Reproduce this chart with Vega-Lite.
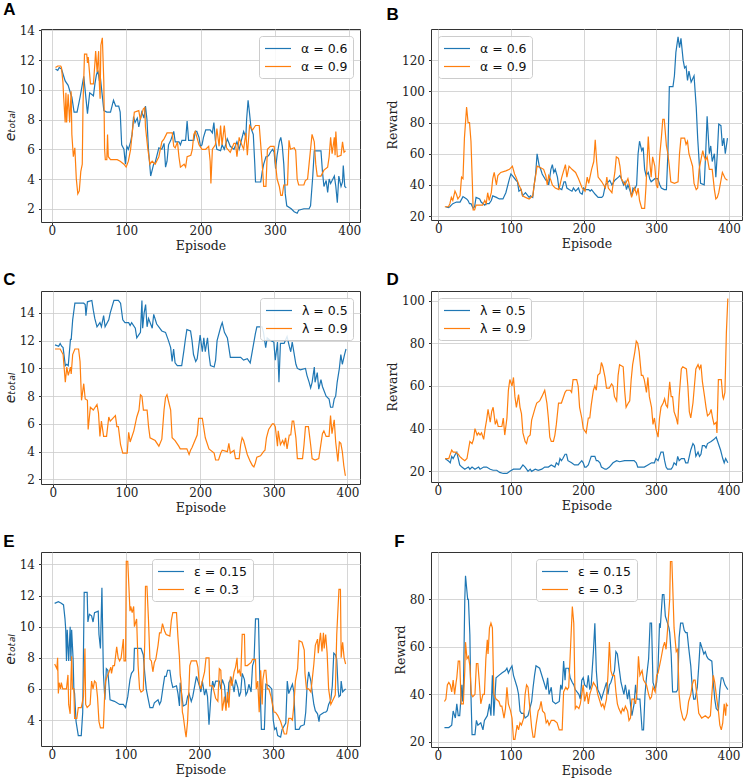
{
"$schema":"https://vega.github.io/schema/vega-lite/v6.json",
"background":"white",
"padding":{"left":2,"top":0,"right":0,"bottom":0},
"config":{
"view":{"stroke":"#333333","strokeWidth":1},
"axis":{"labelFont":"DejaVu Serif","labelFontSize":12,"labelColor":"#222222","titleFont":"DejaVu Serif","titleFontSize":12.5,"titleFontWeight":"normal","titleColor":"#222222","gridColor":"#cccccc","gridWidth":0.8,"tickColor":"#333333","tickSize":2.5,"domain":false},
"axisX":{"labelPadding":1,"titlePadding":3},
"axisY":{"labelPadding":4,"titlePadding":2},
"title":{"font":"Liberation Sans","fontSize":17,"fontWeight":"bold","anchor":"start","frame":"bounds","color":"#000000","offset":6},
"legend":{"symbolType":"M-1,0H3","symbolSize":169,"symbolStrokeWidth":1.5,"labelFont":"DejaVu Sans","labelFontSize":12.5,"labelColor":"#111111","labelOffset":22,"padding":5,"rowPadding":4,"fillColor":"rgba(255,255,255,0.85)","strokeColor":"#cccccc","cornerRadius":3,"offset":7,"title":null},
"line":{"strokeWidth":1.2}
},
"datasets":{
"A1":[{"x":5,"y":11.4},{"x":8,"y":11.3},{"x":10,"y":11.5},{"x":13,"y":11.4},{"x":18,"y":10.6},{"x":22,"y":10.3},{"x":25,"y":9.8},{"x":27,"y":9.5},{"x":30,"y":8.5},{"x":34,"y":8.5},{"x":38,"y":9.5},{"x":43,"y":10.9},{"x":48,"y":8.4},{"x":51,"y":9.8},{"x":56,"y":9.6},{"x":58,"y":10.4},{"x":60,"y":11.0},{"x":62,"y":11.3},{"x":64,"y":10.6},{"x":65,"y":11.0},{"x":70,"y":8.6},{"x":74,"y":8.5},{"x":79,"y":8.5},{"x":81,"y":8.9},{"x":83,"y":9.3},{"x":86,"y":8.9},{"x":90,"y":8.9},{"x":92,"y":8.5},{"x":94,"y":6.3},{"x":97,"y":6.0},{"x":99,"y":5.0},{"x":101,"y":6.2},{"x":103,"y":6.0},{"x":106,"y":6.5},{"x":108,"y":7.0},{"x":110,"y":8.2},{"x":112,"y":7.8},{"x":115,"y":8.1},{"x":117,"y":7.5},{"x":121,"y":8.5},{"x":124,"y":8.1},{"x":126,"y":8.9},{"x":128,"y":8.0},{"x":130,"y":6.0},{"x":133,"y":4.2},{"x":137,"y":5.0},{"x":139,"y":5.1},{"x":144,"y":6.1},{"x":148,"y":6.0},{"x":151,"y":6.4},{"x":153,"y":4.8},{"x":155,"y":5.2},{"x":157,"y":6.3},{"x":160,"y":6.6},{"x":164,"y":7.2},{"x":166,"y":6.5},{"x":171,"y":6.5},{"x":173,"y":6.3},{"x":175,"y":6.6},{"x":180,"y":6.6},{"x":182,"y":7.9},{"x":184,"y":6.6},{"x":191,"y":6.6},{"x":193,"y":7.2},{"x":195,"y":7.2},{"x":198,"y":6.8},{"x":200,"y":6.2},{"x":202,"y":6.3},{"x":204,"y":6.8},{"x":207,"y":7.3},{"x":213,"y":7.3},{"x":216,"y":7.1},{"x":218,"y":7.8},{"x":220,"y":6.6},{"x":222,"y":6.0},{"x":227,"y":5.9},{"x":229,"y":6.3},{"x":232,"y":6.0},{"x":236,"y":6.7},{"x":240,"y":6.2},{"x":245,"y":6.0},{"x":249,"y":6.5},{"x":252,"y":6.0},{"x":256,"y":6.8},{"x":258,"y":7.2},{"x":261,"y":6.8},{"x":262,"y":8.0},{"x":264,"y":9.3},{"x":266,"y":8.4},{"x":268,"y":7.4},{"x":271,"y":7.0},{"x":273,"y":5.0},{"x":274,"y":3.8},{"x":281,"y":3.8},{"x":283,"y":4.5},{"x":285,"y":5.0},{"x":288,"y":5.5},{"x":290,"y":5.5},{"x":292,"y":5.6},{"x":294,"y":5.8},{"x":297,"y":6.0},{"x":299,"y":5.8},{"x":301,"y":4.7},{"x":303,"y":5.6},{"x":306,"y":6.5},{"x":308,"y":6.8},{"x":310,"y":6.2},{"x":312,"y":5.0},{"x":314,"y":3.0},{"x":316,"y":2.2},{"x":322,"y":2.0},{"x":326,"y":1.8},{"x":330,"y":1.7},{"x":332,"y":1.9},{"x":339,"y":2.0},{"x":346,"y":2.0},{"x":348,"y":2.2},{"x":351,"y":4.2},{"x":353,"y":5.9},{"x":362,"y":5.9},{"x":364,"y":4.5},{"x":366,"y":3.5},{"x":369,"y":3.9},{"x":371,"y":3.1},{"x":373,"y":4.0},{"x":375,"y":3.7},{"x":380,"y":4.2},{"x":382,"y":3.5},{"x":384,"y":2.4},{"x":386,"y":4.2},{"x":389,"y":3.5},{"x":391,"y":3.8},{"x":392,"y":4.9},{"x":394,"y":3.5},{"x":396,"y":3.4}],
"A2":[{"x":5,"y":11.5},{"x":8,"y":11.6},{"x":12,"y":11.6},{"x":13,"y":11.5},{"x":15,"y":10.5},{"x":16,"y":9.5},{"x":18,"y":7.8},{"x":19,"y":9.8},{"x":20,"y":7.8},{"x":22,"y":9.7},{"x":24,"y":7.8},{"x":26,"y":9.9},{"x":27,"y":7.0},{"x":29,"y":5.5},{"x":31,"y":6.1},{"x":33,"y":4.0},{"x":35,"y":3.0},{"x":37,"y":3.2},{"x":39,"y":4.5},{"x":41,"y":5.0},{"x":42,"y":9.0},{"x":44,"y":12.4},{"x":47,"y":12.4},{"x":48,"y":11.8},{"x":49,"y":12.2},{"x":52,"y":10.4},{"x":56,"y":10.4},{"x":58,"y":11.8},{"x":59,"y":12.6},{"x":61,"y":11.2},{"x":63,"y":12.6},{"x":64,"y":10.4},{"x":65,"y":9.4},{"x":66,"y":13.0},{"x":68,"y":13.5},{"x":70,"y":10.5},{"x":71,"y":6.0},{"x":72,"y":5.3},{"x":74,"y":5.3},{"x":75,"y":7.0},{"x":76,"y":5.5},{"x":79,"y":5.3},{"x":88,"y":5.3},{"x":92,"y":5.2},{"x":97,"y":5.0},{"x":100,"y":4.8},{"x":103,"y":5.2},{"x":106,"y":6.0},{"x":108,"y":7.0},{"x":111,"y":8.5},{"x":117,"y":8.6},{"x":119,"y":8.0},{"x":123,"y":8.7},{"x":125,"y":8.8},{"x":126,"y":7.5},{"x":129,"y":6.1},{"x":132,"y":5.0},{"x":135,"y":5.2},{"x":139,"y":5.0},{"x":144,"y":5.5},{"x":148,"y":6.5},{"x":151,"y":6.7},{"x":155,"y":7.1},{"x":162,"y":7.1},{"x":164,"y":6.2},{"x":166,"y":6.1},{"x":169,"y":6.5},{"x":171,"y":5.5},{"x":173,"y":4.8},{"x":178,"y":5.0},{"x":180,"y":4.8},{"x":182,"y":5.5},{"x":187,"y":5.6},{"x":189,"y":6.0},{"x":191,"y":7.0},{"x":193,"y":7.2},{"x":198,"y":6.3},{"x":202,"y":6.0},{"x":207,"y":6.0},{"x":211,"y":6.2},{"x":213,"y":5.2},{"x":214,"y":3.7},{"x":216,"y":6.0},{"x":220,"y":6.3},{"x":222,"y":7.4},{"x":225,"y":6.2},{"x":227,"y":7.6},{"x":229,"y":6.3},{"x":232,"y":7.6},{"x":235,"y":6.1},{"x":240,"y":5.8},{"x":245,"y":6.4},{"x":247,"y":6.4},{"x":249,"y":5.5},{"x":252,"y":6.8},{"x":254,"y":6.5},{"x":258,"y":6.0},{"x":261,"y":7.1},{"x":263,"y":5.6},{"x":266,"y":7.6},{"x":270,"y":7.3},{"x":274,"y":7.6},{"x":279,"y":7.6},{"x":281,"y":6.3},{"x":283,"y":5.0},{"x":285,"y":3.5},{"x":288,"y":3.5},{"x":290,"y":6.0},{"x":294,"y":6.2},{"x":299,"y":6.2},{"x":301,"y":5.0},{"x":303,"y":4.0},{"x":306,"y":3.5},{"x":308,"y":2.9},{"x":310,"y":2.9},{"x":312,"y":3.6},{"x":317,"y":3.6},{"x":319,"y":6.6},{"x":321,"y":6.0},{"x":326,"y":6.1},{"x":328,"y":5.9},{"x":330,"y":4.0},{"x":332,"y":3.6},{"x":339,"y":3.6},{"x":341,"y":3.9},{"x":344,"y":4.0},{"x":346,"y":5.0},{"x":348,"y":6.0},{"x":350,"y":7.0},{"x":353,"y":6.5},{"x":355,"y":5.0},{"x":357,"y":4.2},{"x":362,"y":4.2},{"x":366,"y":4.6},{"x":371,"y":4.8},{"x":373,"y":5.5},{"x":375,"y":6.8},{"x":377,"y":5.7},{"x":380,"y":6.8},{"x":381,"y":5.6},{"x":382,"y":7.2},{"x":384,"y":5.5},{"x":389,"y":5.6},{"x":391,"y":6.5},{"x":393,"y":5.8},{"x":395,"y":5.9}],
"B1":[{"x":10,"y":26},{"x":14,"y":25.5},{"x":16,"y":26},{"x":18,"y":27},{"x":20,"y":28},{"x":25,"y":29},{"x":30,"y":29},{"x":34,"y":32.5},{"x":39,"y":31},{"x":41,"y":30},{"x":43,"y":28},{"x":45,"y":28},{"x":48,"y":25},{"x":50,"y":26},{"x":52,"y":32},{"x":57,"y":31},{"x":59,"y":29},{"x":64,"y":27},{"x":66,"y":28},{"x":70,"y":28},{"x":73,"y":30},{"x":75,"y":33},{"x":80,"y":32},{"x":84,"y":31},{"x":89,"y":31},{"x":93,"y":35},{"x":98,"y":44},{"x":100,"y":47},{"x":102,"y":46},{"x":107,"y":43},{"x":109,"y":42},{"x":111,"y":36},{"x":114,"y":37},{"x":116,"y":33},{"x":120,"y":35},{"x":125,"y":32},{"x":127,"y":33},{"x":130,"y":32},{"x":132,"y":40},{"x":134,"y":47},{"x":136,"y":60},{"x":139,"y":52},{"x":141,"y":50},{"x":143,"y":47},{"x":148,"y":43},{"x":150,"y":43},{"x":152,"y":40},{"x":155,"y":50},{"x":157,"y":53},{"x":159,"y":48},{"x":161,"y":50},{"x":164,"y":45},{"x":166,"y":38},{"x":170,"y":37},{"x":173,"y":42},{"x":175,"y":42},{"x":177,"y":38},{"x":180,"y":37},{"x":184,"y":36},{"x":186,"y":38},{"x":189,"y":36},{"x":193,"y":38},{"x":195,"y":35},{"x":198,"y":34},{"x":200,"y":38},{"x":202,"y":37},{"x":207,"y":37},{"x":209,"y":36},{"x":211,"y":37},{"x":216,"y":34},{"x":220,"y":32},{"x":225,"y":32},{"x":227,"y":33},{"x":230,"y":40},{"x":234,"y":42},{"x":236,"y":43},{"x":239,"y":40},{"x":243,"y":43},{"x":248,"y":45},{"x":250,"y":46},{"x":252,"y":44},{"x":255,"y":40},{"x":257,"y":42},{"x":259,"y":37},{"x":261,"y":40},{"x":264,"y":36},{"x":266,"y":33},{"x":268,"y":38},{"x":270,"y":37},{"x":273,"y":40},{"x":275,"y":60},{"x":277,"y":68},{"x":280,"y":62},{"x":282,"y":64},{"x":284,"y":50},{"x":286,"y":46},{"x":289,"y":48},{"x":291,"y":44},{"x":293,"y":42},{"x":298,"y":44},{"x":302,"y":44},{"x":305,"y":40},{"x":307,"y":38},{"x":311,"y":37},{"x":314,"y":37},{"x":316,"y":60},{"x":318,"y":103},{"x":323,"y":103},{"x":325,"y":110},{"x":327,"y":125},{"x":330,"y":135},{"x":332,"y":128},{"x":334,"y":134},{"x":337,"y":120},{"x":339,"y":115},{"x":341,"y":116},{"x":343,"y":107},{"x":345,"y":113},{"x":348,"y":106},{"x":350,"y":108},{"x":352,"y":110},{"x":355,"y":90},{"x":357,"y":70},{"x":359,"y":55},{"x":361,"y":41},{"x":366,"y":40},{"x":368,"y":60},{"x":370,"y":84},{"x":373,"y":60},{"x":375,"y":65},{"x":377,"y":55},{"x":380,"y":60},{"x":382,"y":45},{"x":384,"y":60},{"x":386,"y":79},{"x":389,"y":78},{"x":391,"y":65},{"x":393,"y":70},{"x":395,"y":60},{"x":398,"y":70}],
"B2":[{"x":9,"y":26},{"x":14,"y":26},{"x":16,"y":28},{"x":18,"y":32},{"x":20,"y":30},{"x":23,"y":36},{"x":25,"y":34},{"x":27,"y":31},{"x":30,"y":33},{"x":32,"y":45},{"x":34,"y":44},{"x":36,"y":70},{"x":39,"y":90},{"x":41,"y":80},{"x":43,"y":80},{"x":45,"y":68},{"x":47,"y":40},{"x":48,"y":24},{"x":50,"y":24},{"x":52,"y":27},{"x":57,"y":27},{"x":61,"y":27},{"x":64,"y":30},{"x":66,"y":28},{"x":68,"y":35},{"x":70,"y":30},{"x":73,"y":35},{"x":75,"y":44},{"x":77,"y":48},{"x":80,"y":40},{"x":82,"y":46},{"x":86,"y":48},{"x":93,"y":49},{"x":98,"y":50},{"x":102,"y":52},{"x":105,"y":47},{"x":107,"y":45},{"x":111,"y":40},{"x":114,"y":37},{"x":116,"y":33},{"x":120,"y":32},{"x":125,"y":31},{"x":130,"y":33},{"x":132,"y":40},{"x":134,"y":46},{"x":136,"y":52},{"x":141,"y":51},{"x":145,"y":50},{"x":148,"y":46},{"x":150,"y":40},{"x":152,"y":46},{"x":155,"y":43},{"x":157,"y":40},{"x":161,"y":38},{"x":166,"y":37},{"x":170,"y":45},{"x":175,"y":53},{"x":177,"y":45},{"x":180,"y":52},{"x":184,"y":50},{"x":189,"y":48},{"x":193,"y":44},{"x":198,"y":38},{"x":202,"y":36},{"x":205,"y":45},{"x":207,"y":41},{"x":211,"y":50},{"x":214,"y":55},{"x":216,"y":69},{"x":218,"y":55},{"x":220,"y":45},{"x":225,"y":42},{"x":230,"y":38},{"x":232,"y":45},{"x":234,"y":38},{"x":239,"y":35},{"x":241,"y":42},{"x":243,"y":48},{"x":245,"y":58},{"x":248,"y":57},{"x":250,"y":52},{"x":252,"y":44},{"x":257,"y":40},{"x":261,"y":44},{"x":264,"y":38},{"x":266,"y":32},{"x":270,"y":38},{"x":273,"y":34},{"x":275,"y":38},{"x":277,"y":30},{"x":280,"y":25},{"x":284,"y":25},{"x":286,"y":40},{"x":289,"y":71},{"x":291,"y":55},{"x":293,"y":45},{"x":295,"y":58},{"x":298,"y":52},{"x":300,"y":40},{"x":302,"y":38},{"x":305,"y":60},{"x":307,"y":70},{"x":309,"y":82},{"x":311,"y":82},{"x":314,"y":65},{"x":316,"y":60},{"x":318,"y":52},{"x":320,"y":42},{"x":325,"y":41},{"x":330,"y":42},{"x":332,"y":60},{"x":334,"y":70},{"x":339,"y":70},{"x":341,"y":66},{"x":343,"y":68},{"x":345,"y":60},{"x":350,"y":52},{"x":352,"y":41},{"x":355,"y":37},{"x":357,"y":38},{"x":359,"y":50},{"x":361,"y":55},{"x":364,"y":62},{"x":366,"y":58},{"x":368,"y":56},{"x":370,"y":58},{"x":373,"y":50},{"x":377,"y":50},{"x":380,"y":37},{"x":382,"y":31},{"x":384,"y":32},{"x":386,"y":35},{"x":391,"y":48},{"x":393,"y":46},{"x":395,"y":44},{"x":398,"y":43}],
"C1":[{"x":3,"y":11.7},{"x":8,"y":11.6},{"x":10,"y":11.8},{"x":12,"y":11.6},{"x":14,"y":11.5},{"x":17,"y":10.2},{"x":19,"y":10.3},{"x":21,"y":10.2},{"x":24,"y":12.1},{"x":25,"y":12.1},{"x":27,"y":13.5},{"x":30,"y":14.7},{"x":42,"y":14.7},{"x":44,"y":14.6},{"x":45,"y":13.8},{"x":47,"y":14.8},{"x":53,"y":14.9},{"x":55,"y":14.2},{"x":57,"y":13.6},{"x":60,"y":13.0},{"x":64,"y":13.3},{"x":66,"y":13.0},{"x":69,"y":13.8},{"x":71,"y":13.0},{"x":76,"y":13.5},{"x":78,"y":14.0},{"x":83,"y":14.9},{"x":89,"y":14.9},{"x":92,"y":14.7},{"x":95,"y":13.5},{"x":98,"y":13.3},{"x":103,"y":13.3},{"x":105,"y":13.1},{"x":107,"y":13.3},{"x":112,"y":12.9},{"x":114,"y":12.2},{"x":119,"y":12.6},{"x":121,"y":14.9},{"x":122,"y":12.9},{"x":124,"y":14.0},{"x":126,"y":14.6},{"x":128,"y":13.0},{"x":130,"y":13.6},{"x":135,"y":12.9},{"x":137,"y":13.9},{"x":141,"y":13.2},{"x":148,"y":12.7},{"x":153,"y":12.6},{"x":157,"y":12.0},{"x":160,"y":11.5},{"x":162,"y":10.5},{"x":164,"y":11.4},{"x":166,"y":10.4},{"x":169,"y":10.2},{"x":175,"y":10.2},{"x":178,"y":11.3},{"x":180,"y":12.1},{"x":182,"y":12.8},{"x":187,"y":12.7},{"x":189,"y":12.0},{"x":191,"y":11.0},{"x":194,"y":10.5},{"x":196,"y":10.7},{"x":200,"y":12.4},{"x":203,"y":11.2},{"x":205,"y":12.2},{"x":207,"y":11.2},{"x":210,"y":12.2},{"x":212,"y":11.0},{"x":214,"y":10.2},{"x":219,"y":10.1},{"x":221,"y":10.6},{"x":223,"y":12.0},{"x":228,"y":13.0},{"x":230,"y":13.3},{"x":233,"y":12.6},{"x":237,"y":12.2},{"x":239,"y":11.5},{"x":241,"y":10.8},{"x":255,"y":10.8},{"x":259,"y":10.6},{"x":264,"y":10.7},{"x":268,"y":10.4},{"x":271,"y":11.3},{"x":275,"y":12.5},{"x":277,"y":13.0},{"x":284,"y":13.0},{"x":286,"y":12.6},{"x":289,"y":11.5},{"x":291,"y":12.2},{"x":296,"y":12.0},{"x":300,"y":11.9},{"x":302,"y":10.6},{"x":305,"y":11.9},{"x":307,"y":9.0},{"x":309,"y":11.8},{"x":314,"y":11.8},{"x":318,"y":12.3},{"x":321,"y":11.6},{"x":323,"y":11.2},{"x":325,"y":11.9},{"x":330,"y":10.3},{"x":332,"y":10.0},{"x":336,"y":9.9},{"x":343,"y":10.0},{"x":345,"y":9.5},{"x":348,"y":9.0},{"x":350,"y":8.6},{"x":352,"y":9.0},{"x":355,"y":10.1},{"x":356,"y":9.0},{"x":359,"y":9.7},{"x":361,"y":8.5},{"x":364,"y":9.2},{"x":366,"y":8.7},{"x":371,"y":8.0},{"x":375,"y":7.8},{"x":377,"y":7.2},{"x":380,"y":7.2},{"x":382,"y":7.8},{"x":384,"y":8.0},{"x":386,"y":9.0},{"x":389,"y":10.0},{"x":391,"y":11.0},{"x":393,"y":10.3},{"x":396,"y":11.0},{"x":398,"y":11.4}],
"C2":[{"x":3,"y":11.4},{"x":10,"y":11.4},{"x":12,"y":11.2},{"x":14,"y":11.0},{"x":17,"y":9.0},{"x":19,"y":10.1},{"x":21,"y":9.5},{"x":24,"y":10.1},{"x":25,"y":9.6},{"x":27,"y":11.0},{"x":30,"y":11.4},{"x":35,"y":11.4},{"x":37,"y":10.5},{"x":39,"y":7.7},{"x":42,"y":8.9},{"x":44,"y":7.8},{"x":47,"y":7.7},{"x":48,"y":5.6},{"x":51,"y":7.2},{"x":55,"y":7.0},{"x":60,"y":7.4},{"x":62,"y":6.8},{"x":64,"y":5.1},{"x":66,"y":6.2},{"x":69,"y":5.1},{"x":73,"y":5.1},{"x":76,"y":6.5},{"x":78,"y":6.2},{"x":85,"y":6.6},{"x":87,"y":5.8},{"x":89,"y":5.8},{"x":92,"y":4.5},{"x":95,"y":3.9},{"x":101,"y":3.9},{"x":103,"y":5.4},{"x":105,"y":4.7},{"x":110,"y":5.5},{"x":114,"y":6.5},{"x":117,"y":7.0},{"x":119,"y":8.1},{"x":121,"y":8.0},{"x":123,"y":7.0},{"x":128,"y":7.0},{"x":130,"y":5.8},{"x":132,"y":5.0},{"x":139,"y":4.8},{"x":144,"y":4.4},{"x":148,"y":4.9},{"x":151,"y":7.0},{"x":153,"y":7.9},{"x":155,"y":8.1},{"x":160,"y":7.0},{"x":162,"y":5.0},{"x":166,"y":4.8},{"x":171,"y":4.4},{"x":173,"y":4.2},{"x":182,"y":4.2},{"x":185,"y":3.8},{"x":187,"y":4.1},{"x":189,"y":4.3},{"x":196,"y":5.2},{"x":198,"y":6.4},{"x":203,"y":6.4},{"x":205,"y":5.7},{"x":207,"y":5.0},{"x":212,"y":4.2},{"x":219,"y":3.9},{"x":221,"y":3.4},{"x":225,"y":3.4},{"x":228,"y":3.9},{"x":230,"y":4.1},{"x":237,"y":4.0},{"x":239,"y":4.6},{"x":241,"y":3.9},{"x":246,"y":4.1},{"x":248,"y":3.5},{"x":253,"y":3.5},{"x":255,"y":4.5},{"x":257,"y":5.0},{"x":259,"y":4.8},{"x":264,"y":3.8},{"x":268,"y":3.3},{"x":271,"y":3.0},{"x":273,"y":2.9},{"x":275,"y":3.2},{"x":277,"y":3.6},{"x":282,"y":3.7},{"x":286,"y":4.0},{"x":288,"y":4.1},{"x":290,"y":5.0},{"x":293,"y":5.6},{"x":298,"y":6.0},{"x":300,"y":6.0},{"x":302,"y":5.8},{"x":305,"y":4.4},{"x":306,"y":5.5},{"x":309,"y":4.5},{"x":312,"y":4.8},{"x":314,"y":4.5},{"x":316,"y":5.0},{"x":318,"y":4.2},{"x":321,"y":5.2},{"x":323,"y":5.2},{"x":325,"y":6.2},{"x":327,"y":6.2},{"x":330,"y":5.0},{"x":332,"y":3.5},{"x":339,"y":3.5},{"x":341,"y":4.5},{"x":343,"y":5.8},{"x":347,"y":5.8},{"x":350,"y":4.5},{"x":352,"y":3.5},{"x":356,"y":3.4},{"x":361,"y":3.5},{"x":363,"y":4.2},{"x":366,"y":5.3},{"x":368,"y":5.5},{"x":371,"y":5.1},{"x":375,"y":5.1},{"x":377,"y":6.6},{"x":379,"y":5.3},{"x":382,"y":6.3},{"x":384,"y":4.7},{"x":387,"y":3.3},{"x":389,"y":4.7},{"x":391,"y":4.6},{"x":393,"y":4.0},{"x":395,"y":3.0},{"x":397,"y":2.3},{"x":398,"y":2.3}],
"D1":[{"x":10,"y":26},{"x":14,"y":25},{"x":17,"y":24},{"x":19,"y":27},{"x":21,"y":26},{"x":24,"y":28},{"x":26,"y":29},{"x":28,"y":26},{"x":30,"y":23},{"x":33,"y":22},{"x":37,"y":21},{"x":42,"y":22},{"x":44,"y":21},{"x":47,"y":22},{"x":51,"y":21},{"x":56,"y":22},{"x":58,"y":21},{"x":63,"y":22},{"x":67,"y":22},{"x":72,"y":21},{"x":76,"y":20.5},{"x":81,"y":20.5},{"x":85,"y":19.5},{"x":90,"y":19},{"x":95,"y":19},{"x":99,"y":20},{"x":104,"y":21},{"x":108,"y":21},{"x":113,"y":21},{"x":117,"y":23},{"x":120,"y":22},{"x":122,"y":21},{"x":124,"y":20},{"x":127,"y":21},{"x":129,"y":20},{"x":134,"y":21},{"x":138,"y":20.5},{"x":143,"y":21},{"x":147,"y":22},{"x":152,"y":22},{"x":156,"y":23},{"x":161,"y":22},{"x":163,"y":24},{"x":166,"y":23},{"x":168,"y":26},{"x":170,"y":25},{"x":172,"y":26},{"x":175,"y":28},{"x":177,"y":28},{"x":179,"y":25},{"x":184,"y":24},{"x":188,"y":23},{"x":193,"y":23},{"x":198,"y":25},{"x":200,"y":24},{"x":202,"y":22},{"x":204,"y":22},{"x":207,"y":23},{"x":209,"y":25},{"x":211,"y":27},{"x":216,"y":27},{"x":218,"y":25},{"x":220,"y":25},{"x":223,"y":24},{"x":225,"y":22},{"x":230,"y":21},{"x":232,"y":21},{"x":236,"y":22},{"x":241,"y":24},{"x":246,"y":25},{"x":250,"y":24.5},{"x":257,"y":25},{"x":262,"y":25},{"x":266,"y":25},{"x":270,"y":25},{"x":273,"y":24},{"x":275,"y":22},{"x":280,"y":22},{"x":284,"y":22},{"x":289,"y":23},{"x":294,"y":24},{"x":298,"y":24},{"x":300,"y":26},{"x":303,"y":25},{"x":305,"y":27},{"x":307,"y":29},{"x":310,"y":29},{"x":312,"y":25},{"x":314,"y":22},{"x":316,"y":21},{"x":321,"y":21},{"x":323,"y":22},{"x":325,"y":24},{"x":328,"y":23},{"x":330,"y":27},{"x":332,"y":25},{"x":335,"y":26},{"x":339,"y":26},{"x":341,"y":24},{"x":344,"y":24},{"x":346,"y":27},{"x":348,"y":30},{"x":351,"y":33},{"x":353,"y":32},{"x":355,"y":27},{"x":358,"y":29},{"x":360,"y":27},{"x":362,"y":28},{"x":364,"y":32},{"x":367,"y":32},{"x":369,"y":31},{"x":371,"y":33},{"x":376,"y":34},{"x":380,"y":35},{"x":383,"y":36},{"x":385,"y":34},{"x":387,"y":32},{"x":389,"y":30},{"x":392,"y":26},{"x":394,"y":24},{"x":396,"y":26},{"x":399,"y":24}],
"D2":[{"x":10,"y":26},{"x":15,"y":26},{"x":17,"y":28},{"x":19,"y":30},{"x":21,"y":29},{"x":24,"y":29},{"x":28,"y":28},{"x":30,"y":27},{"x":33,"y":26},{"x":37,"y":25},{"x":40,"y":26},{"x":42,"y":30},{"x":44,"y":34},{"x":47,"y":33},{"x":49,"y":35},{"x":51,"y":40},{"x":54,"y":37},{"x":56,"y":38},{"x":58,"y":37},{"x":60,"y":38},{"x":63,"y":35},{"x":65,"y":40},{"x":67,"y":44},{"x":69,"y":49},{"x":72,"y":43},{"x":74,"y":48},{"x":76,"y":50},{"x":79,"y":42},{"x":81,"y":44},{"x":83,"y":41},{"x":88,"y":41},{"x":90,"y":45},{"x":92,"y":37},{"x":95,"y":45},{"x":97,"y":58},{"x":99,"y":63},{"x":102,"y":60},{"x":104,"y":64},{"x":106,"y":55},{"x":108,"y":50},{"x":111,"y":56},{"x":113,"y":50},{"x":115,"y":47},{"x":117,"y":38},{"x":120,"y":34},{"x":122,"y":33},{"x":124,"y":36},{"x":127,"y":37},{"x":129,"y":44},{"x":134,"y":50},{"x":136,"y":52},{"x":140,"y":53},{"x":143,"y":55},{"x":147,"y":58},{"x":150,"y":52},{"x":152,"y":45},{"x":154,"y":36},{"x":156,"y":34},{"x":159,"y":34},{"x":161,"y":37},{"x":163,"y":42},{"x":166,"y":52},{"x":170,"y":52},{"x":175,"y":57},{"x":177,"y":58},{"x":182,"y":58},{"x":184,"y":57},{"x":186,"y":63},{"x":191,"y":63},{"x":193,"y":60},{"x":195,"y":50},{"x":198,"y":45},{"x":200,"y":40},{"x":204,"y":38},{"x":207,"y":45},{"x":209,"y":45},{"x":211,"y":51},{"x":214,"y":58},{"x":216,"y":60},{"x":218,"y":58},{"x":220,"y":65},{"x":223,"y":66},{"x":225,"y":71},{"x":227,"y":69},{"x":230,"y":64},{"x":232,"y":59},{"x":236,"y":59},{"x":239,"y":61},{"x":241,"y":60},{"x":243,"y":55},{"x":246,"y":53},{"x":248,"y":65},{"x":250,"y":70},{"x":255,"y":69},{"x":257,"y":58},{"x":259,"y":50},{"x":262,"y":52},{"x":264,"y":53},{"x":266,"y":63},{"x":268,"y":70},{"x":271,"y":76},{"x":273,"y":81},{"x":275,"y":80},{"x":277,"y":76},{"x":280,"y":65},{"x":282,"y":65},{"x":284,"y":63},{"x":287,"y":57},{"x":289,"y":64},{"x":291,"y":55},{"x":294,"y":50},{"x":296,"y":42},{"x":298,"y":45},{"x":300,"y":40},{"x":303,"y":36},{"x":305,"y":45},{"x":307,"y":50},{"x":310,"y":52},{"x":312,"y":54},{"x":314,"y":51},{"x":316,"y":50},{"x":319,"y":62},{"x":321,"y":55},{"x":323,"y":55},{"x":325,"y":48},{"x":328,"y":45},{"x":330,"y":42},{"x":332,"y":55},{"x":335,"y":68},{"x":337,"y":69},{"x":342,"y":68},{"x":344,"y":60},{"x":346,"y":48},{"x":348,"y":45},{"x":351,"y":52},{"x":353,"y":60},{"x":355,"y":68},{"x":358,"y":70},{"x":360,"y":68},{"x":362,"y":70},{"x":364,"y":62},{"x":367,"y":55},{"x":369,"y":50},{"x":371,"y":46},{"x":374,"y":47},{"x":376,"y":49},{"x":378,"y":45},{"x":380,"y":42},{"x":383,"y":43},{"x":384,"y":38},{"x":386,"y":63},{"x":390,"y":63},{"x":392,"y":55},{"x":393,"y":54},{"x":395,"y":57},{"x":397,"y":85},{"x":399,"y":101}],
"E1":[{"x":4,"y":11.5},{"x":9,"y":11.6},{"x":13,"y":11.5},{"x":16,"y":11.4},{"x":18,"y":10.5},{"x":19,"y":9.8},{"x":20,"y":7.8},{"x":21,"y":9.8},{"x":23,"y":7.8},{"x":25,"y":10.0},{"x":26,"y":7.8},{"x":27,"y":9.8},{"x":29,"y":7.9},{"x":30,"y":6.0},{"x":31,"y":5.7},{"x":33,"y":3.9},{"x":36,"y":3.0},{"x":40,"y":3.0},{"x":42,"y":4.5},{"x":44,"y":12.2},{"x":48,"y":12.2},{"x":49,"y":10.3},{"x":51,"y":10.8},{"x":54,"y":10.7},{"x":56,"y":10.3},{"x":58,"y":10.9},{"x":63,"y":11.0},{"x":64,"y":9.5},{"x":66,"y":8.6},{"x":68,"y":12.5},{"x":70,"y":7.0},{"x":72,"y":5.3},{"x":74,"y":7.3},{"x":76,"y":7.2},{"x":79,"y":5.3},{"x":85,"y":5.2},{"x":92,"y":5.0},{"x":97,"y":5.0},{"x":100,"y":4.8},{"x":103,"y":5.5},{"x":106,"y":6.6},{"x":108,"y":7.0},{"x":111,"y":7.2},{"x":112,"y":8.6},{"x":121,"y":8.6},{"x":124,"y":8.2},{"x":126,"y":7.0},{"x":128,"y":6.0},{"x":130,"y":5.5},{"x":133,"y":4.8},{"x":137,"y":4.8},{"x":139,"y":5.1},{"x":144,"y":5.3},{"x":146,"y":5.0},{"x":148,"y":5.2},{"x":151,"y":6.2},{"x":153,"y":6.8},{"x":155,"y":6.8},{"x":157,"y":7.2},{"x":160,"y":7.2},{"x":162,"y":6.5},{"x":164,"y":6.1},{"x":169,"y":6.2},{"x":171,"y":5.7},{"x":173,"y":4.9},{"x":174,"y":6.4},{"x":178,"y":4.9},{"x":182,"y":5.0},{"x":184,"y":5.5},{"x":186,"y":5.7},{"x":189,"y":5.2},{"x":191,"y":5.5},{"x":196,"y":6.8},{"x":198,"y":6.5},{"x":200,"y":6.2},{"x":202,"y":5.8},{"x":204,"y":6.5},{"x":207,"y":5.6},{"x":209,"y":6.0},{"x":211,"y":5.5},{"x":213,"y":3.7},{"x":216,"y":5.8},{"x":218,"y":6.5},{"x":220,"y":6.1},{"x":222,"y":6.5},{"x":227,"y":6.5},{"x":229,"y":6.0},{"x":231,"y":6.6},{"x":234,"y":6.2},{"x":236,"y":5.0},{"x":238,"y":5.2},{"x":240,"y":6.4},{"x":243,"y":6.7},{"x":245,"y":6.3},{"x":247,"y":5.8},{"x":249,"y":6.6},{"x":252,"y":6.1},{"x":254,"y":5.5},{"x":256,"y":5.8},{"x":258,"y":7.0},{"x":261,"y":6.6},{"x":263,"y":5.6},{"x":265,"y":5.8},{"x":267,"y":6.3},{"x":270,"y":5.8},{"x":272,"y":7.5},{"x":274,"y":7.8},{"x":276,"y":10.5},{"x":280,"y":10.5},{"x":282,"y":6.3},{"x":284,"y":3.4},{"x":288,"y":3.4},{"x":290,"y":6.3},{"x":294,"y":6.2},{"x":298,"y":6.0},{"x":300,"y":4.0},{"x":302,"y":3.4},{"x":304,"y":3.5},{"x":306,"y":3.0},{"x":310,"y":2.9},{"x":312,"y":3.4},{"x":317,"y":3.8},{"x":319,"y":6.5},{"x":321,"y":5.7},{"x":326,"y":6.3},{"x":328,"y":5.8},{"x":330,"y":3.4},{"x":335,"y":3.4},{"x":337,"y":3.6},{"x":342,"y":3.7},{"x":344,"y":4.5},{"x":346,"y":6.3},{"x":348,"y":7.1},{"x":351,"y":6.5},{"x":353,"y":5.7},{"x":355,"y":5.0},{"x":357,"y":4.6},{"x":360,"y":4.4},{"x":362,"y":3.9},{"x":363,"y":4.3},{"x":366,"y":4.4},{"x":369,"y":4.5},{"x":371,"y":4.5},{"x":373,"y":4.6},{"x":375,"y":5.0},{"x":378,"y":5.3},{"x":380,"y":6.2},{"x":382,"y":8.3},{"x":384,"y":8.2},{"x":386,"y":7.9},{"x":388,"y":5.9},{"x":389,"y":5.5},{"x":391,"y":5.6},{"x":392,"y":6.5},{"x":394,"y":5.8},{"x":398,"y":6.0}],
"E2":[{"x":4,"y":7.6},{"x":7,"y":7.3},{"x":8,"y":8.0},{"x":9,"y":5.7},{"x":10,"y":6.4},{"x":12,"y":6.0},{"x":13,"y":6.4},{"x":15,"y":6.0},{"x":20,"y":6.0},{"x":22,"y":6.9},{"x":23,"y":5.0},{"x":25,"y":4.4},{"x":26,"y":6.5},{"x":27,"y":8.1},{"x":28,"y":6.0},{"x":30,"y":6.0},{"x":31,"y":4.1},{"x":34,"y":4.1},{"x":36,"y":4.8},{"x":40,"y":4.8},{"x":43,"y":5.5},{"x":45,"y":8.6},{"x":46,"y":5.0},{"x":48,"y":4.8},{"x":52,"y":5.0},{"x":54,"y":6.5},{"x":56,"y":6.0},{"x":58,"y":6.5},{"x":60,"y":6.4},{"x":62,"y":5.5},{"x":64,"y":3.9},{"x":66,"y":3.5},{"x":70,"y":3.5},{"x":72,"y":6.0},{"x":73,"y":6.5},{"x":75,"y":6.8},{"x":77,"y":7.0},{"x":80,"y":7.4},{"x":81,"y":7.0},{"x":83,"y":7.5},{"x":85,"y":7.5},{"x":88,"y":8.7},{"x":90,"y":8.0},{"x":92,"y":7.8},{"x":94,"y":8.0},{"x":97,"y":9.2},{"x":98,"y":7.8},{"x":100,"y":7.8},{"x":101,"y":14.2},{"x":103,"y":14.2},{"x":106,"y":11.0},{"x":107,"y":11.3},{"x":109,"y":10.9},{"x":111,"y":11.3},{"x":112,"y":10.0},{"x":115,"y":10.5},{"x":116,"y":9.0},{"x":117,"y":7.5},{"x":119,"y":6.0},{"x":121,"y":5.8},{"x":124,"y":5.9},{"x":126,"y":9.0},{"x":127,"y":12.6},{"x":129,"y":12.6},{"x":131,"y":10.5},{"x":133,"y":7.9},{"x":135,"y":7.8},{"x":137,"y":7.1},{"x":139,"y":7.7},{"x":141,"y":7.9},{"x":144,"y":8.8},{"x":146,"y":9.6},{"x":148,"y":9.6},{"x":150,"y":10.2},{"x":153,"y":9.7},{"x":155,"y":9.5},{"x":160,"y":9.4},{"x":162,"y":10.4},{"x":164,"y":10.9},{"x":169,"y":10.9},{"x":171,"y":9.3},{"x":173,"y":8.0},{"x":174,"y":6.9},{"x":175,"y":6.5},{"x":177,"y":4.5},{"x":178,"y":4.3},{"x":181,"y":3.2},{"x":182,"y":2.9},{"x":184,"y":3.9},{"x":185,"y":5.0},{"x":187,"y":7.5},{"x":189,"y":7.8},{"x":196,"y":7.8},{"x":198,"y":7.4},{"x":200,"y":6.3},{"x":202,"y":6.0},{"x":204,"y":6.5},{"x":207,"y":7.1},{"x":209,"y":8.0},{"x":213,"y":8.0},{"x":214,"y":6.2},{"x":218,"y":6.2},{"x":220,"y":5.8},{"x":222,"y":5.4},{"x":225,"y":5.2},{"x":227,"y":7.3},{"x":229,"y":7.2},{"x":231,"y":4.6},{"x":234,"y":5.5},{"x":236,"y":4.6},{"x":238,"y":5.8},{"x":240,"y":4.8},{"x":242,"y":6.8},{"x":244,"y":6.2},{"x":245,"y":6.5},{"x":247,"y":7.1},{"x":249,"y":7.4},{"x":251,"y":8.0},{"x":252,"y":7.0},{"x":254,"y":7.2},{"x":256,"y":6.8},{"x":258,"y":9.5},{"x":261,"y":9.5},{"x":262,"y":7.5},{"x":265,"y":7.5},{"x":270,"y":7.7},{"x":272,"y":7.9},{"x":276,"y":7.9},{"x":277,"y":6.0},{"x":279,"y":6.5},{"x":281,"y":4.5},{"x":283,"y":7.2},{"x":285,"y":5.0},{"x":286,"y":6.6},{"x":288,"y":7.2},{"x":290,"y":7.2},{"x":292,"y":6.0},{"x":294,"y":6.0},{"x":297,"y":5.5},{"x":299,"y":5.0},{"x":301,"y":4.5},{"x":303,"y":4.5},{"x":306,"y":4.3},{"x":308,"y":4.1},{"x":310,"y":3.9},{"x":315,"y":3.1},{"x":318,"y":3.1},{"x":321,"y":4.1},{"x":324,"y":4.1},{"x":326,"y":4.0},{"x":328,"y":5.0},{"x":330,"y":6.5},{"x":333,"y":7.3},{"x":335,"y":9.1},{"x":339,"y":9.0},{"x":342,"y":8.5},{"x":343,"y":7.0},{"x":345,"y":6.0},{"x":348,"y":6.0},{"x":351,"y":5.8},{"x":355,"y":7.6},{"x":357,"y":8.8},{"x":360,"y":9.2},{"x":361,"y":8.3},{"x":363,"y":9.2},{"x":364,"y":9.6},{"x":366,"y":8.4},{"x":368,"y":9.6},{"x":369,"y":8.6},{"x":371,"y":9.5},{"x":373,"y":8.3},{"x":375,"y":6.0},{"x":378,"y":5.0},{"x":380,"y":5.2},{"x":384,"y":5.6},{"x":386,"y":9.5},{"x":389,"y":12.4},{"x":391,"y":12.4},{"x":392,"y":8.0},{"x":394,"y":9.0},{"x":396,"y":8.0},{"x":398,"y":7.6}],
"F1":[{"x":9,"y":26},{"x":15,"y":26},{"x":19,"y":27},{"x":21,"y":33},{"x":24,"y":30},{"x":26,"y":36},{"x":28,"y":31},{"x":30,"y":31},{"x":33,"y":44},{"x":34,"y":37},{"x":35,"y":40},{"x":37,"y":80},{"x":38,"y":90},{"x":41,"y":80},{"x":42,"y":80},{"x":44,"y":65},{"x":45,"y":45},{"x":47,"y":23},{"x":51,"y":23},{"x":53,"y":29},{"x":55,"y":27},{"x":59,"y":28},{"x":62,"y":25},{"x":64,"y":29},{"x":68,"y":31},{"x":71,"y":36},{"x":73,"y":31},{"x":75,"y":48},{"x":77,"y":31},{"x":80,"y":47},{"x":84,"y":48},{"x":88,"y":49},{"x":93,"y":50},{"x":95,"y":51},{"x":97,"y":49},{"x":100,"y":51},{"x":102,"y":52},{"x":104,"y":48},{"x":109,"y":43},{"x":111,"y":40},{"x":113,"y":33},{"x":115,"y":32},{"x":118,"y":32},{"x":120,"y":30},{"x":124,"y":31},{"x":129,"y":37},{"x":131,"y":43},{"x":133,"y":48},{"x":135,"y":52},{"x":140,"y":51},{"x":142,"y":49},{"x":144,"y":47},{"x":149,"y":42},{"x":151,"y":47},{"x":153,"y":40},{"x":156,"y":43},{"x":158,"y":37},{"x":162,"y":36},{"x":167,"y":37},{"x":169,"y":44},{"x":171,"y":42},{"x":173,"y":54},{"x":175,"y":46},{"x":176,"y":51},{"x":180,"y":51},{"x":182,"y":47},{"x":185,"y":45},{"x":187,"y":44},{"x":189,"y":42},{"x":194,"y":40},{"x":196,"y":38},{"x":198,"y":46},{"x":200,"y":47},{"x":202,"y":44},{"x":205,"y":43},{"x":207,"y":48},{"x":209,"y":42},{"x":211,"y":44},{"x":214,"y":58},{"x":216,"y":70},{"x":218,"y":50},{"x":220,"y":42},{"x":223,"y":40},{"x":225,"y":38},{"x":229,"y":42},{"x":232,"y":45},{"x":234,"y":40},{"x":236,"y":44},{"x":238,"y":45},{"x":243,"y":50},{"x":245,"y":58},{"x":247,"y":57},{"x":249,"y":52},{"x":252,"y":45},{"x":256,"y":40},{"x":258,"y":44},{"x":261,"y":38},{"x":263,"y":42},{"x":265,"y":36},{"x":267,"y":31},{"x":270,"y":36},{"x":272,"y":44},{"x":274,"y":38},{"x":278,"y":38},{"x":281,"y":25},{"x":283,"y":25},{"x":285,"y":40},{"x":287,"y":47},{"x":290,"y":55},{"x":292,"y":70},{"x":294,"y":70},{"x":296,"y":45},{"x":299,"y":42},{"x":301,"y":45},{"x":303,"y":52},{"x":305,"y":70},{"x":306,"y":68},{"x":309,"y":82},{"x":311,"y":82},{"x":313,"y":73},{"x":316,"y":70},{"x":318,"y":68},{"x":319,"y":66},{"x":321,"y":57},{"x":323,"y":41},{"x":325,"y":41},{"x":328,"y":41},{"x":330,"y":42},{"x":332,"y":64},{"x":334,"y":70},{"x":337,"y":70},{"x":339,"y":67},{"x":341,"y":66},{"x":343,"y":66},{"x":345,"y":60},{"x":348,"y":52},{"x":350,"y":43},{"x":352,"y":38},{"x":354,"y":38},{"x":357,"y":43},{"x":359,"y":52},{"x":361,"y":62},{"x":363,"y":60},{"x":366,"y":57},{"x":368,"y":58},{"x":370,"y":56},{"x":372,"y":55},{"x":377,"y":54},{"x":379,"y":45},{"x":381,"y":38},{"x":383,"y":34},{"x":386,"y":33},{"x":388,"y":42},{"x":390,"y":47},{"x":392,"y":47},{"x":395,"y":44},{"x":397,"y":43},{"x":399,"y":42}],
"F2":[{"x":9,"y":37},{"x":11,"y":38},{"x":13,"y":44},{"x":15,"y":45},{"x":17,"y":44},{"x":19,"y":41},{"x":21,"y":46},{"x":23,"y":40},{"x":25,"y":45},{"x":26,"y":47},{"x":28,"y":54},{"x":30,"y":54},{"x":32,"y":36},{"x":35,"y":36},{"x":37,"y":50},{"x":38,"y":62},{"x":40,"y":55},{"x":42,"y":56},{"x":44,"y":52},{"x":46,"y":40},{"x":48,"y":39},{"x":51,"y":40},{"x":53,"y":53},{"x":55,"y":53},{"x":57,"y":45},{"x":59,"y":36},{"x":62,"y":40},{"x":64,"y":40},{"x":66,"y":55},{"x":68,"y":63},{"x":69,"y":57},{"x":71,"y":68},{"x":73,"y":70},{"x":75,"y":68},{"x":77,"y":40},{"x":80,"y":38},{"x":84,"y":37},{"x":86,"y":35},{"x":88,"y":35},{"x":91,"y":30},{"x":93,"y":34},{"x":95,"y":43},{"x":97,"y":36},{"x":100,"y":33},{"x":102,"y":30},{"x":104,"y":21},{"x":106,"y":21},{"x":109,"y":27},{"x":111,"y":25},{"x":113,"y":28},{"x":115,"y":27},{"x":118,"y":30},{"x":120,"y":40},{"x":122,"y":44},{"x":124,"y":43},{"x":126,"y":36},{"x":129,"y":26},{"x":131,"y":22},{"x":133,"y":22},{"x":135,"y":27},{"x":138,"y":33},{"x":140,"y":34},{"x":142,"y":37},{"x":144,"y":33},{"x":147,"y":32},{"x":149,"y":28},{"x":151,"y":29},{"x":153,"y":27},{"x":156,"y":29},{"x":160,"y":29},{"x":164,"y":28},{"x":167,"y":25},{"x":171,"y":25},{"x":173,"y":41},{"x":176,"y":43},{"x":178,"y":42},{"x":180,"y":43},{"x":182,"y":56},{"x":185,"y":77},{"x":187,"y":70},{"x":189,"y":34},{"x":191,"y":35},{"x":194,"y":34},{"x":196,"y":36},{"x":198,"y":40},{"x":200,"y":44},{"x":202,"y":37},{"x":205,"y":41},{"x":207,"y":36},{"x":209,"y":40},{"x":211,"y":42},{"x":214,"y":45},{"x":216,"y":44},{"x":218,"y":43},{"x":220,"y":40},{"x":223,"y":37},{"x":225,"y":35},{"x":227,"y":36},{"x":229,"y":34},{"x":232,"y":38},{"x":234,"y":48},{"x":236,"y":62},{"x":238,"y":50},{"x":240,"y":48},{"x":243,"y":48},{"x":245,"y":41},{"x":247,"y":36},{"x":249,"y":34},{"x":252,"y":32},{"x":254,"y":34},{"x":256,"y":33},{"x":258,"y":35},{"x":261,"y":33},{"x":263,"y":29},{"x":265,"y":30},{"x":267,"y":38},{"x":270,"y":38},{"x":272,"y":36},{"x":274,"y":41},{"x":276,"y":56},{"x":278,"y":48},{"x":281,"y":50},{"x":283,"y":46},{"x":285,"y":45},{"x":287,"y":44},{"x":290,"y":40},{"x":292,"y":38},{"x":294,"y":39},{"x":296,"y":43},{"x":299,"y":41},{"x":301,"y":48},{"x":303,"y":49},{"x":305,"y":52},{"x":307,"y":55},{"x":310,"y":60},{"x":312,"y":62},{"x":314,"y":59},{"x":316,"y":67},{"x":319,"y":80},{"x":320,"y":96},{"x":322,"y":96},{"x":323,"y":87},{"x":325,"y":68},{"x":328,"y":58},{"x":330,"y":59},{"x":332,"y":40},{"x":334,"y":34},{"x":337,"y":30},{"x":339,"y":29},{"x":341,"y":30},{"x":343,"y":32},{"x":345,"y":37},{"x":348,"y":40},{"x":350,"y":44},{"x":352,"y":46},{"x":354,"y":46},{"x":357,"y":38},{"x":359,"y":32},{"x":361,"y":31},{"x":363,"y":30},{"x":368,"y":31},{"x":372,"y":30},{"x":375,"y":31},{"x":377,"y":40},{"x":379,"y":48},{"x":381,"y":45},{"x":383,"y":40},{"x":386,"y":33},{"x":388,"y":27},{"x":390,"y":25},{"x":392,"y":28},{"x":394,"y":36},{"x":396,"y":31},{"x":397,"y":36},{"x":399,"y":35}]
},
"columns":2,
"spacing":{"row":17,"column":24},
"resolve":{"scale":{"x":"independent","y":"independent","color":"independent"},"legend":{"color":"independent"}},
"concat":[
{"title":{"text":"A","offset":5},"width":319,"height":193,
 "encoding":{"x":{"field":"x","type":"quantitative","scale":{"domain":[-14.5,414.5],"nice":false,"zero":false},"axis":{"values":[0,100,200,300,400],"title":"Episode"}},
  "y":{"field":"y","type":"quantitative","scale":{"domain":[1.11,14.09],"nice":false,"zero":false},"axis":{"values":[2,4,6,8,10,12,14],"title":"eₜₒₜₐₗ","titleFont":"DejaVu Sans","titleFontStyle":"italic","titleFontSize":14}}},
 "layer":[
  {"data":{"name":"A1"},"mark":"line","encoding":{"color":{"datum":"α = 0.6","type":"nominal","scale":{"domain":["α = 0.6","α = 0.9"],"range":["#1f77b4","#ff7f0e"]},"legend":{"orient":"top-right"}}}},
  {"data":{"name":"A2"},"mark":"line","encoding":{"color":{"datum":"α = 0.9","type":"nominal"}}}]},
{"title":{"text":"B","offset":5},"width":311,"height":191,
 "encoding":{"x":{"field":"x","type":"quantitative","scale":{"domain":[-10,418],"nice":false,"zero":false},"axis":{"values":[0,100,200,300,400],"title":"Episode"}},
  "y":{"field":"y","type":"quantitative","scale":{"domain":[17.5,140],"nice":false,"zero":false},"axis":{"values":[20,40,60,80,100,120],"title":"Reward"}}},
 "layer":[
  {"data":{"name":"B1"},"mark":"line","encoding":{"color":{"datum":"α = 0.6","type":"nominal","scale":{"domain":["α = 0.6","α = 0.9"],"range":["#1f77b4","#ff7f0e"]},"legend":{"orient":"top-left"}}}},
  {"data":{"name":"B2"},"mark":"line","encoding":{"color":{"datum":"α = 0.9","type":"nominal"}}}]},
{"title":{"text":"C","offset":2},"width":319,"height":193,
 "encoding":{"x":{"field":"x","type":"quantitative","scale":{"domain":[-16,417],"nice":false,"zero":false},"axis":{"values":[0,100,200,300,400],"title":"Episode"}},
  "y":{"field":"y","type":"quantitative","scale":{"domain":[1.67,15.58],"nice":false,"zero":false},"axis":{"values":[2,4,6,8,10,12,14],"title":"eₜₒₜₐₗ","titleFont":"DejaVu Sans","titleFontStyle":"italic","titleFontSize":14}}},
 "layer":[
  {"data":{"name":"C1"},"mark":"line","encoding":{"color":{"datum":"λ = 0.5","type":"nominal","scale":{"domain":["λ = 0.5","λ = 0.9"],"range":["#1f77b4","#ff7f0e"]},"legend":{"orient":"top-right"}}}},
  {"data":{"name":"C2"},"mark":"line","encoding":{"color":{"datum":"λ = 0.9","type":"nominal"}}}]},
{"title":{"text":"D","offset":2},"width":311,"height":191,
 "encoding":{"x":{"field":"x","type":"quantitative","scale":{"domain":[-9.5,418.5],"nice":false,"zero":false},"axis":{"values":[0,100,200,300,400],"title":"Episode"}},
  "y":{"field":"y","type":"quantitative","scale":{"domain":[15,104.5],"nice":false,"zero":false},"axis":{"values":[20,40,60,80,100],"title":"Reward"}}},
 "layer":[
  {"data":{"name":"D1"},"mark":"line","encoding":{"color":{"datum":"λ = 0.5","type":"nominal","scale":{"domain":["λ = 0.5","λ = 0.9"],"range":["#1f77b4","#ff7f0e"]},"legend":{"orient":"top-left"}}}},
  {"data":{"name":"D2"},"mark":"line","encoding":{"color":{"datum":"λ = 0.9","type":"nominal"}}}]},
{"title":{"text":"E","offset":1},"width":319,"height":194,
 "encoding":{"x":{"field":"x","type":"quantitative","scale":{"domain":[-14.5,417.5],"nice":false,"zero":false},"axis":{"values":[0,100,200,300,400],"title":"Episode"}},
  "y":{"field":"y","type":"quantitative","scale":{"domain":[2.33,14.8],"nice":false,"zero":false},"axis":{"values":[4,6,8,10,12,14],"title":"eₜₒₜₐₗ","titleFont":"DejaVu Sans","titleFontStyle":"italic","titleFontSize":14}}},
 "layer":[
  {"data":{"name":"E1"},"mark":"line","encoding":{"color":{"datum":"ε = 0.15","type":"nominal","scale":{"domain":["ε = 0.15","ε = 0.3"],"range":["#1f77b4","#ff7f0e"]},"legend":{"orient":"none","legendX":111,"legendY":7}}}},
  {"data":{"name":"E2"},"mark":"line","encoding":{"color":{"datum":"ε = 0.3","type":"nominal"}}}]},
{"title":{"text":"F","offset":1},"width":311,"height":195,
 "encoding":{"x":{"field":"x","type":"quantitative","scale":{"domain":[-9.5,418.5],"nice":false,"zero":false},"axis":{"values":[0,100,200,300,400],"title":"Episode"}},
  "y":{"field":"y","type":"quantitative","scale":{"domain":[17.8,100],"nice":false,"zero":false},"axis":{"values":[20,40,60,80],"title":"Reward"}}},
 "layer":[
  {"data":{"name":"F1"},"mark":"line","encoding":{"color":{"datum":"ε = 0.15","type":"nominal","scale":{"domain":["ε = 0.15","ε = 0.3"],"range":["#1f77b4","#ff7f0e"]},"legend":{"orient":"none","legendX":105,"legendY":7}}}},
  {"data":{"name":"F2"},"mark":"line","encoding":{"color":{"datum":"ε = 0.3","type":"nominal"}}}]}
]
}
